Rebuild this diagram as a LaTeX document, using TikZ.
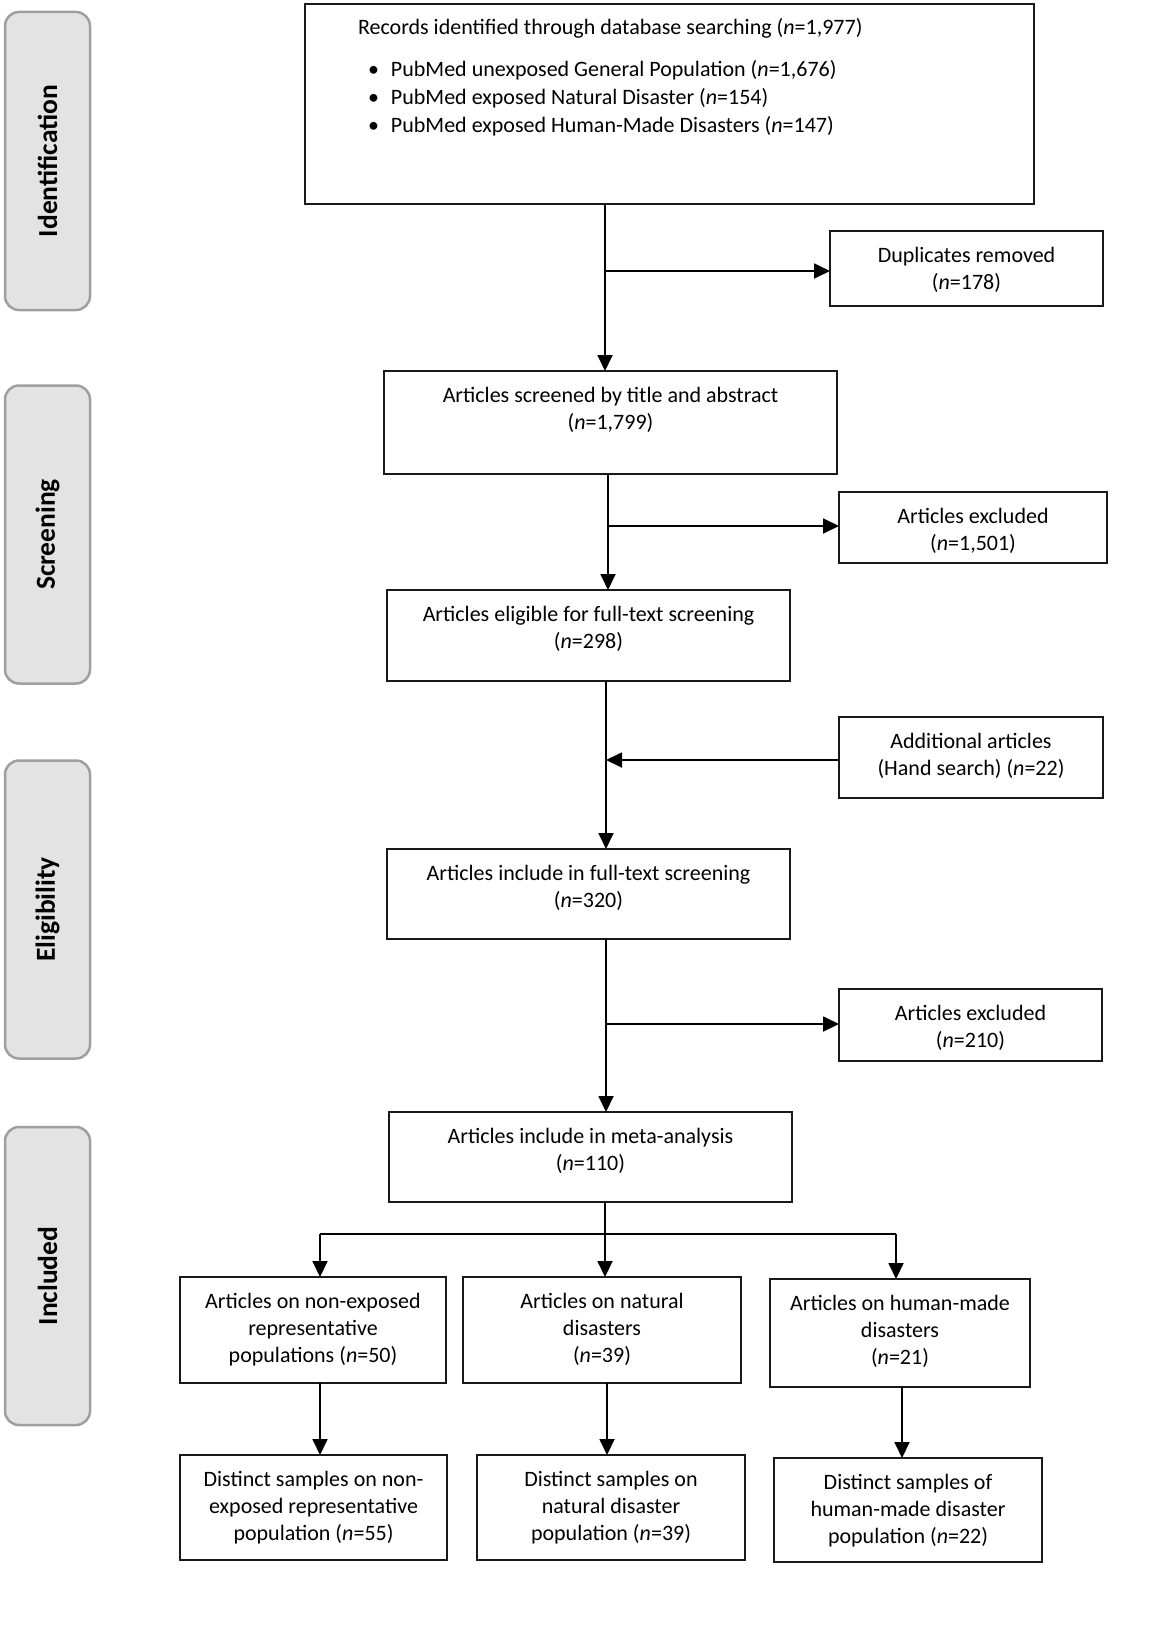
\documentclass[tikz,border=0pt]{standalone}
\usepackage{fontspec}
\setmainfont{Carlito}
\usetikzlibrary{arrows.meta,calc}
\newcommand{\bxt}[3]{\parbox[c][#2][t]{#1}{\centering\rule{0pt}{31pt}#3}}
\newcommand{\nn}{\textit{n}}
\begin{document}
\begin{tikzpicture}[x=1pt,y=-1pt,
 box/.style={draw=black!90, line width=1.8pt, inner sep=0pt, outer sep=0pt, anchor=north west, font=\fontsize{22}{27}\selectfont},
 phase/.style={draw=gray!75, fill=gray!22, line width=2.5pt, rounded corners=14pt, rotate=90, minimum width=298pt, minimum height=85pt, inner sep=0pt, font=\fontsize{27.5}{30}\selectfont\bfseries},
 arr/.style={line width=1.8pt, -{Triangle[length=16pt,width=15pt]}},
 ln/.style={line width=1.8pt}]
\useasboundingbox (0,0) rectangle (1160,1637);
\fill[white] (0,0) rectangle (1160,1637);

% phase labels
\node[phase] (pid) at (47.5,161) {Identification};
\node[phase] (psc) at (47.5,534.5) {Screening};
\node[phase] (pel) at (47.5,909.5) {Eligibility};
\node[phase] (pin) at (47.5,1276) {Included};

% boxes
\node[box, font=\fontsize{22}{28}\selectfont] (rec) at (305,4) {\parbox[c][200pt][t]{729pt}{\hspace*{53pt}\rule{0pt}{31pt}Records identified through database searching (\nn=1,977)\\[14pt]
\hspace*{63pt}\makebox[23pt][l]{•}PubMed unexposed General Population (\nn=1,676)\\
\hspace*{63pt}\makebox[23pt][l]{•}PubMed exposed Natural Disaster (\nn=154)\\
\hspace*{63pt}\makebox[23pt][l]{•}PubMed exposed Human-Made Disasters (\nn=147)}};
\node[box] (dup) at (830,231) {\bxt{273pt}{75pt}{Duplicates removed\\(\nn=178)}};
\node[box] (scr) at (384,371) {\bxt{453pt}{103pt}{Articles screened by title and abstract\\(\nn=1,799)}};
\node[box] (exa) at (839,492) {\bxt{268pt}{71pt}{Articles excluded\\(\nn=1,501)}};
\node[box] (elg) at (387,590) {\bxt{403pt}{91pt}{Articles eligible for full-text screening\\(\nn=298)}};
\node[box] (add) at (839,717) {\bxt{264pt}{81pt}{Additional articles\\(Hand search) (\nn=22)}};
\node[box] (inc) at (387,849) {\bxt{403pt}{90pt}{Articles include in full-text screening\\(\nn=320)}};
\node[box] (exb) at (839,989) {\bxt{263pt}{72pt}{Articles excluded\\(\nn=210)}};
\node[box] (met) at (389,1112) {\bxt{403pt}{90pt}{Articles include in meta-analysis\\(\nn=110)}};
\node[box] (a1) at (180,1277) {\bxt{266pt}{106pt}{Articles on non-exposed\\representative\\populations (\nn=50)}};
\node[box] (b1) at (463,1277) {\bxt{278pt}{106pt}{Articles on natural\\disasters\\(\nn=39)}};
\node[box] (c1) at (770,1279) {\bxt{260pt}{108pt}{Articles on human-made\\disasters\\(\nn=21)}};
\node[box] (a2) at (180,1455) {\bxt{267pt}{105pt}{Distinct samples on non-\\exposed representative\\population (\nn=55)}};
\node[box] (b2) at (477,1455) {\bxt{268pt}{105pt}{Distinct samples on\\natural disaster\\population (\nn=39)}};
\node[box] (c2) at (774,1458) {\bxt{268pt}{104pt}{Distinct samples of\\human-made disaster\\population (\nn=22)}};

% connectors
\coordinate (j1) at (605,271);
\draw[arr] (rec.south -| j1) -- (scr.north -| j1);
\draw[arr] (j1) -- (j1 -| dup.west);

\coordinate (j2) at (608,526);
\draw[arr] (scr.south -| j2) -- (elg.north -| j2);
\draw[arr] (j2) -- (j2 -| exa.west);

\coordinate (j3) at (606,760);
\draw[arr] (elg.south -| j3) -- (inc.north -| j3);
\draw[arr] (add.west |- j3) -- (j3);

\coordinate (j4) at (606,1024);
\draw[arr] (inc.south -| j4) -- (met.north -| j4);
\draw[arr] (j4) -- (j4 -| exb.west);

\coordinate (j5) at (605,1234);
\coordinate (jl) at (320,1234);
\coordinate (jr) at (896,1234);
\draw[ln] (met.south -| j5) -- (j5);
\draw[ln] (jl) -- (jr);
\draw[arr] (jl) -- (jl |- a1.north);
\draw[arr] (j5) -- (j5 |- b1.north);
\draw[arr] (jr) -- (jr |- c1.north);

\coordinate (ka) at (320,1420);
\coordinate (kb) at (607,1420);
\coordinate (kc) at (902,1420);
\draw[arr] (a1.south -| ka) -- (a2.north -| ka);
\draw[arr] (b1.south -| kb) -- (b2.north -| kb);
\draw[arr] (c1.south -| kc) -- (c2.north -| kc);
\end{tikzpicture}
\end{document}
